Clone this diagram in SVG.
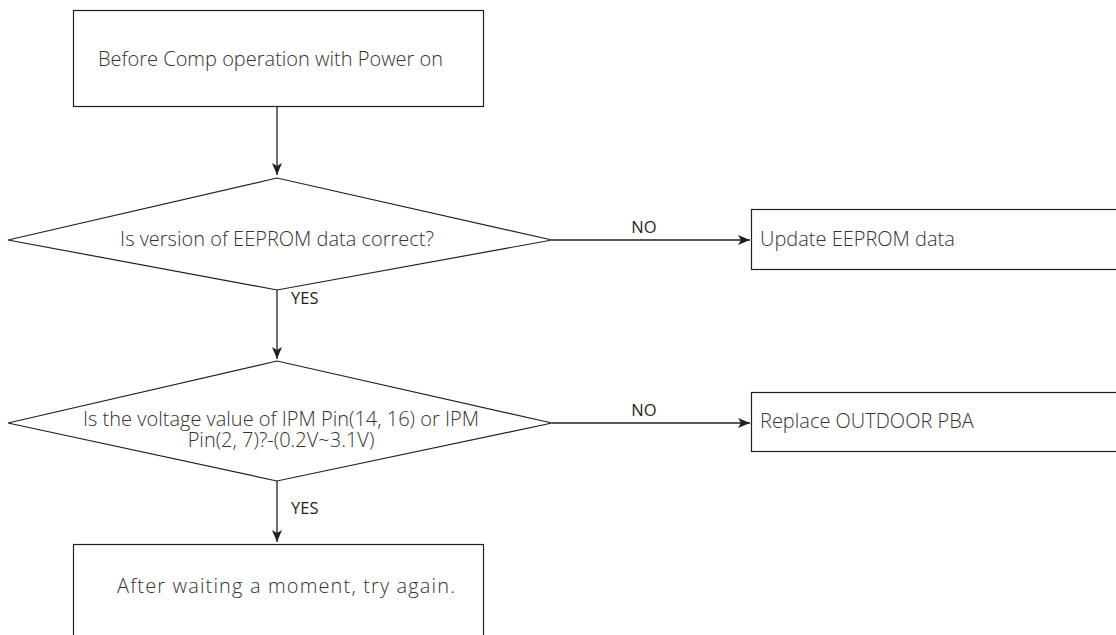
<svg xmlns="http://www.w3.org/2000/svg" width="1116" height="635" viewBox="0 0 1116 635">
<defs>
<marker id="ah" markerWidth="12" markerHeight="12" viewBox="0 0 12 12" refX="12" refY="6" orient="auto" markerUnits="userSpaceOnUse">
<path d="M0,1 L12,6 L0,11 L3,6 Z" fill="#231f20"/>
</marker>
<style>
.box{fill:#fff;stroke:#231f20;stroke-width:1.2}
.t{font-family:"Open Sans","Liberation Sans",sans-serif;font-weight:300;font-size:20px;fill:#333}
.lbl{font-family:"Open Sans","Liberation Sans",sans-serif;font-weight:400;font-size:16.5px;fill:#231f20}
.c{fill:none;stroke:#231f20;stroke-width:1.3}
</style>
</defs>
<rect width="1116" height="635" fill="#fff"/>
<g id="connectors">
<line class="c" x1="277" y1="107" x2="277" y2="175" marker-end="url(#ah)"/>
<line class="c" x1="552" y1="240" x2="750" y2="240" marker-end="url(#ah)"/>
<line class="c" x1="277" y1="290" x2="277" y2="359" marker-end="url(#ah)"/>
<line class="c" x1="552" y1="423" x2="750" y2="423" marker-end="url(#ah)"/>
<line class="c" x1="277" y1="481" x2="277" y2="542" marker-end="url(#ah)"/>
<text class="lbl" x="644" y="233" text-anchor="middle">NO</text>
<text class="lbl" x="291" y="304">YES</text>
<text class="lbl" x="644" y="416" text-anchor="middle">NO</text>
<text class="lbl" x="291" y="514">YES</text>
</g>
<g id="start">
<rect class="box" x="73.5" y="10.5" width="410" height="96"/>
<text class="t" x="98" y="66">Before Comp operation with Power on</text>
</g>
<g id="decision1">
<polygon class="box" points="8,240 277,178 552,240 277,290"/>
<text class="t" x="277" y="246" text-anchor="middle">Is version of EEPROM data correct?</text>
</g>
<g id="update">
<rect class="box" x="751.5" y="209.5" width="370" height="60"/>
<text class="t" x="760" y="246">Update EEPROM data</text>
</g>
<g id="decision2">
<polygon class="box" points="8,423 277,361 552,423 277,481"/>
<text class="t" x="281" y="426" text-anchor="middle">Is the voltage value of IPM Pin(14, 16) or IPM</text>
<text class="t" x="281" y="447" text-anchor="middle">Pin(2, 7)?-(0.2V~3.1V)</text>
</g>
<g id="replace">
<rect class="box" x="751.5" y="392.5" width="370" height="59"/>
<text class="t" x="760" y="428">Replace OUTDOOR PBA</text>
</g>
<g id="retry">
<rect class="box" x="73.5" y="544.5" width="410" height="110"/>
<text class="t" x="117" y="593" textLength="338" lengthAdjust="spacing">After waiting a moment, try again.</text>
</g>
</svg>
